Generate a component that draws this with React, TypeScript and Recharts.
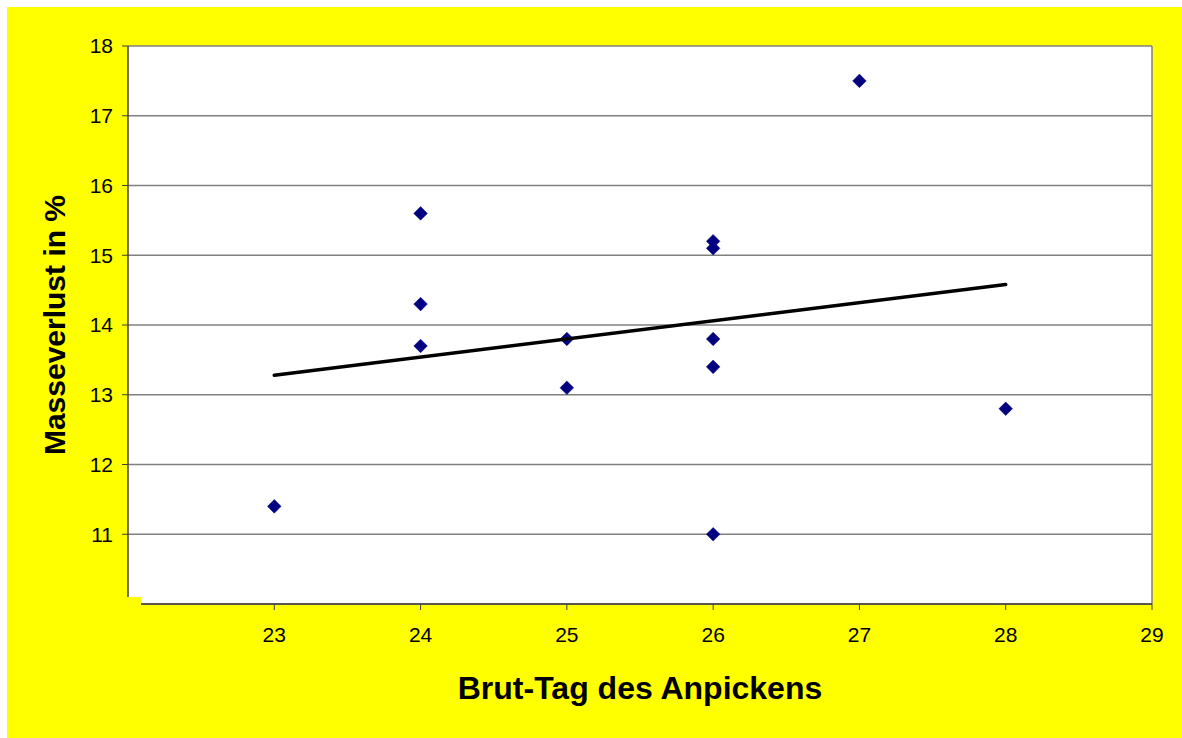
import React from 'react';
import { ScatterChart, Scatter, XAxis, YAxis, CartesianGrid, ReferenceLine } from 'recharts';

const hatchDays = [23, 24, 24, 24, 25, 25, 26, 26, 26, 26, 26, 27, 28];
const massLoss = [11.4, 15.6, 14.3, 13.7, 13.8, 13.1, 15.2, 15.1, 13.8, 13.4, 11.0, 17.5, 12.8];
const trendDays = [23, 28];
const trendValues = [13.28, 14.58];
const xTicks = [23, 24, 25, 26, 27, 28, 29];
const yTicks = [10, 11, 12, 13, 14, 15, 16, 17, 18];

const points = hatchDays.map((d, i) => ({ x: d, y: massLoss[i] }));
const trend = trendDays.map((d, i) => ({ x: d, y: trendValues[i] }));

const FONT = '"Liberation Sans", Arial, sans-serif';

const Diamond = (props: any) => {
  const { cx, cy } = props;
  const r = 6.8;
  return (
    <path
      d={`M${cx},${cy - r}L${cx + r},${cy}L${cx},${cy + r}L${cx - r},${cy}Z`}
      fill="#000080"
      stroke="#000080"
      strokeWidth={0.5}
    />
  );
};

const NoShape = () => <g />;

export default function App() {
  return (
    <div style={{ position: 'absolute', left: 0, top: 0, width: 1182, height: 738, background: '#ffffff', fontFamily: FONT }}>
      <div style={{ position: 'absolute', left: 7, top: 7, width: 1175, height: 731, background: '#FFFF00' }} />
      <div style={{ position: 'absolute', left: 0, top: 0 }}>
        <ScatterChart width={1182} height={738} margin={{ top: 46, right: 30, bottom: 0, left: 0 }}>
          <CartesianGrid horizontal vertical={false} stroke="#808080" strokeWidth={1.3} fill="#ffffff" fillOpacity={1} />
          <XAxis
            type="number"
            dataKey="x"
            domain={[22, 29]}
            ticks={xTicks}
            interval={0}
            allowDataOverflow
            height={134}
            tickSize={6}
            tickMargin={17}
            axisLine={{ stroke: '#404040', strokeWidth: 1.5 }}
            tickLine={{ stroke: '#404040' }}
            tick={{ fill: '#000000', fontSize: 21, fontFamily: FONT }}
            label={{
              value: 'Brut-Tag des Anpickens',
              position: 'center',
              dy: 17,
              style: { fontSize: 32, fontWeight: 'bold', fill: '#000000', fontFamily: FONT },
            }}
          />
          <YAxis
            type="number"
            dataKey="y"
            domain={[10, 18]}
            ticks={yTicks}
            interval={0}
            allowDataOverflow
            width={128}
            tickSize={6}
            tickMargin={9}
            axisLine={{ stroke: '#404040', strokeWidth: 1.5 }}
            tickLine={{ stroke: '#404040' }}
            tick={{ fill: '#000000', fontSize: 21, fontFamily: FONT }}
            label={{
              value: 'Masseverlust in %',
              angle: -90,
              position: 'center',
              dx: -10,
              style: { fontSize: 30, fontWeight: 'bold', fill: '#000000', fontFamily: FONT },
            }}
          />
          <ReferenceLine x={29} stroke="#808080" strokeWidth={1.5} />
          <Scatter data={points} shape={Diamond} isAnimationActive={false} />
          <Scatter
            data={trend}
            shape={NoShape}
            line={{ stroke: '#000000', strokeWidth: 3.5, strokeLinecap: 'round' }}
            isAnimationActive={false}
          />
        </ScatterChart>
      </div>
      <div style={{ position: 'absolute', left: 80, top: 597, width: 61, height: 18, background: '#FFFF00' }} />
    </div>
  );
}
